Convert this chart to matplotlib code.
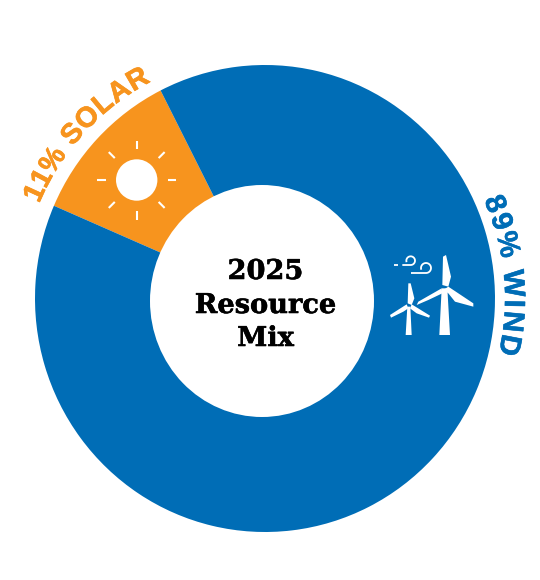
import numpy as np
import matplotlib
matplotlib.use('Agg')
import matplotlib.pyplot as plt
import matplotlib.patheffects as pe
from matplotlib.patches import Circle, Ellipse, Polygon
from matplotlib.font_manager import FontProperties
from matplotlib.textpath import TextPath

categories = ['SOLAR', 'WIND']
shares = [11, 89]
colors = ['#F7941E', '#006DB6']
title_lines = ['2025', 'Resource', 'Mix']

W, H = 540, 580
# the ring in the picture is a little taller than wide
CX, CY = 265, 298.5
RX, RY = 230, 233.5


def py(y):
    # picture coords have y going down
    return H - y


def curved(ax, s, mid_deg, radius, color, size=20, track=0.0, stroke=0.0):
    # one text per letter, clockwise round the ring
    fp = FontProperties(family='Liberation Sans', weight='bold', size=size)
    scale = 100 / 72
    dot = TextPath((0, 0), '.', prop=fp).get_extents().x1
    adv = [(TextPath((0, 0), s[:i + 1] + '.', prop=fp).get_extents().x1 - dot) * scale + track * (i + 1)
           for i in range(len(s))]
    total = adv[-1]
    prev = 0
    for ch, a in zip(s, adv):
        middle = (prev + a) / 2 - total / 2
        ang = mid_deg - np.degrees(middle / (radius + 6))
        x = CX + radius * np.cos(np.radians(ang))
        y = CY - radius * np.sin(np.radians(ang))
        t = ax.text(x, py(y), ch, color=color, fontproperties=fp, rotation=ang - 90,
                    rotation_mode='anchor', ha='center', va='baseline')
        if stroke:
            t.set_path_effects([pe.withStroke(linewidth=stroke, foreground=color)])
        prev = a


fig = plt.figure(figsize=(W / 100, H / 100), dpi=100)

# pie gets its own axes, stretched to the ring's box
ax_pie = fig.add_axes([(CX - RX) / W, (py(CY) - RY) / H, 2 * RX / W, 2 * RY / H])
ax_pie.pie(shares, colors=colors, startangle=117, radius=1,
           wedgeprops=dict(linewidth=0), frame=True)
ax_pie.set_aspect('auto')
ax_pie.set_xlim(-1, 1)
ax_pie.set_ylim(-1, 1)
ax_pie.axis('off')

ax = fig.add_axes([0, 0, 1, 1])
ax.set_xlim(0, W)
ax.set_ylim(0, H)
ax.axis('off')
ax.patch.set_alpha(0)

# hole
ax.add_patch(Ellipse((262, py(301)), 224, 232, fc='white', ec='none'))

# centre title
for line, y in zip(title_lines, [279, 313, 346]):
    ax.text(265.5, py(y), line, family='DejaVu Serif', weight='bold', size=19.6,
            ha='center', va='baseline', color='black',
            path_effects=[pe.withStroke(linewidth=0.4, foreground='black')])

curved(ax, '11% ' + categories[0], 137.5, 245, colors[0], size=20.5, track=1.2, stroke=0.5)
curved(ax, '89% ' + categories[1], 5.5, 240, colors[1], size=21, track=2.4, stroke=0.4)

# sun icon
sx, sy = 136.7, 180
ax.add_patch(Circle((sx, py(sy)), 20.7, fc='white', ec='none'))
for a in np.arange(0, 360, 45):
    c, s = np.cos(np.radians(a)), np.sin(np.radians(a))
    ax.plot([sx + 31 * c, sx + 39.5 * c], [py(sy + 31 * s), py(sy + 39.5 * s)],
            color='white', lw=1.5, solid_capstyle='butt')


# turbines, traced in a 3x crop whose corner is at (385, 245)
def zx(x):
    return 385 + x / 3


def zy(y):
    return py(245 + y / 3)


def shape(pts):
    ax.add_patch(Polygon([(zx(x), zy(y)) for x, y in pts], fc='white', ec='none'))


# big one
shape([(174, 35), (183, 30), (198, 95), (190, 125), (172, 120)])
shape([(190, 125), (265, 175), (265, 185), (210, 170), (190, 145), (175, 135)])
shape([(170, 130), (100, 170), (95, 180), (130, 165), (172, 145)])
shape([(170, 130), (187, 130), (195, 270), (163, 270)])
# small one
shape([(70, 115), (77, 115), (88, 160), (80, 180), (68, 175)])
shape([(80, 178), (135, 212), (132, 218), (95, 205), (75, 190)])
shape([(65, 178), (15, 210), (18, 218), (55, 200), (70, 190)])
shape([(67, 185), (76, 185), (80, 270), (62, 270)])


def curl(x0, cx, cy, r):
    # straight run into a loop that turns back over itself
    t = np.radians(np.linspace(90, -200, 40))
    xs = np.r_[x0, cx + r * np.cos(t)]
    ys = np.r_[cy + r, cy + r * np.sin(t)]
    ax.plot(zx(xs), zy(ys), color='white', lw=1.3, solid_capstyle='butt')


ax.plot(zx(np.array([28, 38])), zy(np.array([60, 60])), color='white', lw=1.3, solid_capstyle='butt')
curl(52, 77, 47, 13)
curl(78, 123, 69, 15)

fig.savefig('out.png', dpi=100)
